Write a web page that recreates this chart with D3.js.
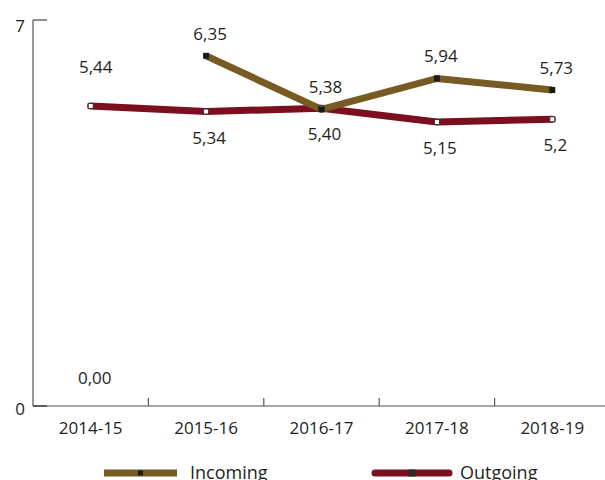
<!DOCTYPE html>
<html><head><meta charset="utf-8">
<script src="https://cdn.jsdelivr.net/npm/d3@7"></script>
<style>body{margin:0;background:#fff}svg{display:block}text{font-family:"Open Sans",sans-serif;fill:#231f20}</style>
</head><body><svg id="c" width="605" height="480"></svg>
<script>
const categories = ["2014-15","2015-16","2016-17","2017-18","2018-19"];
const incoming = [null, 6.35, 5.38, 5.94, 5.73];
const incomingLabels = ["0,00","6,35","5,38","5,94","5,73"];
const outgoing = [5.44, 5.34, 5.40, 5.15, 5.2];
const outgoingLabels = ["5,44","5,34","5,40","5,15","5,2"];
const yTicks = [0, 7];
const seriesNames = ["Incoming","Outgoing"];

const svg = d3.select("#c");
const x = d3.scaleBand().domain(categories).range([33, 610]);
const y = d3.scaleLinear().domain([0, 7]).range([406, 20]);
const cx = c => x(c) + x.bandwidth()/2;
const colIn = "#785a23", colOut = "#7b0f1e";
const fs = 17;

// axes
svg.append("line").attr("x1",33).attr("x2",33).attr("y1",y(7)).attr("y2",y(0)).attr("stroke","#777").attr("stroke-width",1.5);
svg.append("line").attr("x1",33).attr("x2",605).attr("y1",y(0)).attr("y2",y(0)).attr("stroke","#888").attr("stroke-width",1.5);
svg.append("line").attr("x1",33).attr("x2",47).attr("y1",y(7)).attr("y2",y(7)).attr("stroke","#444").attr("stroke-width",1.2);
svg.append("line").attr("x1",33).attr("x2",47).attr("y1",y(0)).attr("y2",y(0)).attr("stroke","#444").attr("stroke-width",1.5);
yTicks.forEach(t => svg.append("text").attr("x",20).attr("y",y(t)+(t===0?9:12)).attr("text-anchor","middle").attr("font-size",fs).text(t));
categories.slice(1).forEach(c => svg.append("line").attr("x1",x(c)).attr("x2",x(c)).attr("y1",y(0)).attr("y2",y(0)-8).attr("stroke","#555").attr("stroke-width",1.2));
categories.forEach(c => svg.append("text").attr("x",cx(c)).attr("y",434).attr("text-anchor","middle").attr("font-size",fs).text(c));

// lines
const line = d3.line().defined(d => d.v != null).x(d => cx(d.c)).y(d => y(d.v));
const outData = categories.map((c,i)=>({c, v: outgoing[i]}));
const inData = categories.map((c,i)=>({c, v: incoming[i]}));
svg.append("path").datum(outData).attr("d",line).attr("fill","none").attr("stroke",colOut).attr("stroke-width",7).attr("stroke-linecap","round").attr("stroke-linejoin","round");
svg.append("path").datum(inData).attr("d",line).attr("fill","none").attr("stroke",colIn).attr("stroke-width",7).attr("stroke-linecap","butt").attr("stroke-linejoin","miter");

// markers
outData.forEach(d => svg.append("rect").attr("x",cx(d.c)-2.5).attr("y",y(d.v)-2.5).attr("width",5).attr("height",5).attr("fill","#fff").attr("stroke","#333").attr("stroke-width",1));
inData.filter(d=>d.v!=null).forEach(d => svg.append("rect").attr("x",cx(d.c)-3).attr("y",y(d.v)-3).attr("width",6).attr("height",6).attr("fill","#1a1a1a"));

// labels
inData.forEach((d,i) => svg.append("text").attr("x",cx(d.c)+4).attr("y",y(d.v||0)-(d.v==null?22:16)).attr("text-anchor","middle").attr("font-size",fs).text(incomingLabels[i]));
outData.forEach((d,i) => {
  const above = incoming[i] == null;
  svg.append("text").attr("x",cx(d.c)+(above?5:3)).attr("y",above ? y(d.v)-33 : y(d.v)+32).attr("text-anchor","middle").attr("font-size",fs).text(outgoingLabels[i]);
});

// legend
const lg = [{name:seriesNames[0], col:colIn, x1:104, x2:177, tx:190, cap:"butt"},{name:seriesNames[1], col:colOut, x1:375, x2:449, tx:460, cap:"round"}];
lg.forEach(l => {
  svg.append("line").attr("x1",l.x1).attr("x2",l.x2).attr("y1",473).attr("y2",473).attr("stroke",l.col).attr("stroke-width",7).attr("stroke-linecap",l.cap);
  const m = (l.x1+l.x2)/2;
  if (l.cap==="butt") svg.append("rect").attr("x",m-2.5).attr("y",470.5).attr("width",5).attr("height",5).attr("fill","#1a1a1a");
  else svg.append("rect").attr("x",m-3.5).attr("y",469.5).attr("width",7).attr("height",7).attr("fill","#2a2a2a");
  svg.append("text").attr("x",l.tx).attr("y",479).attr("font-size",18).text(l.name);
});
</script></body></html>
